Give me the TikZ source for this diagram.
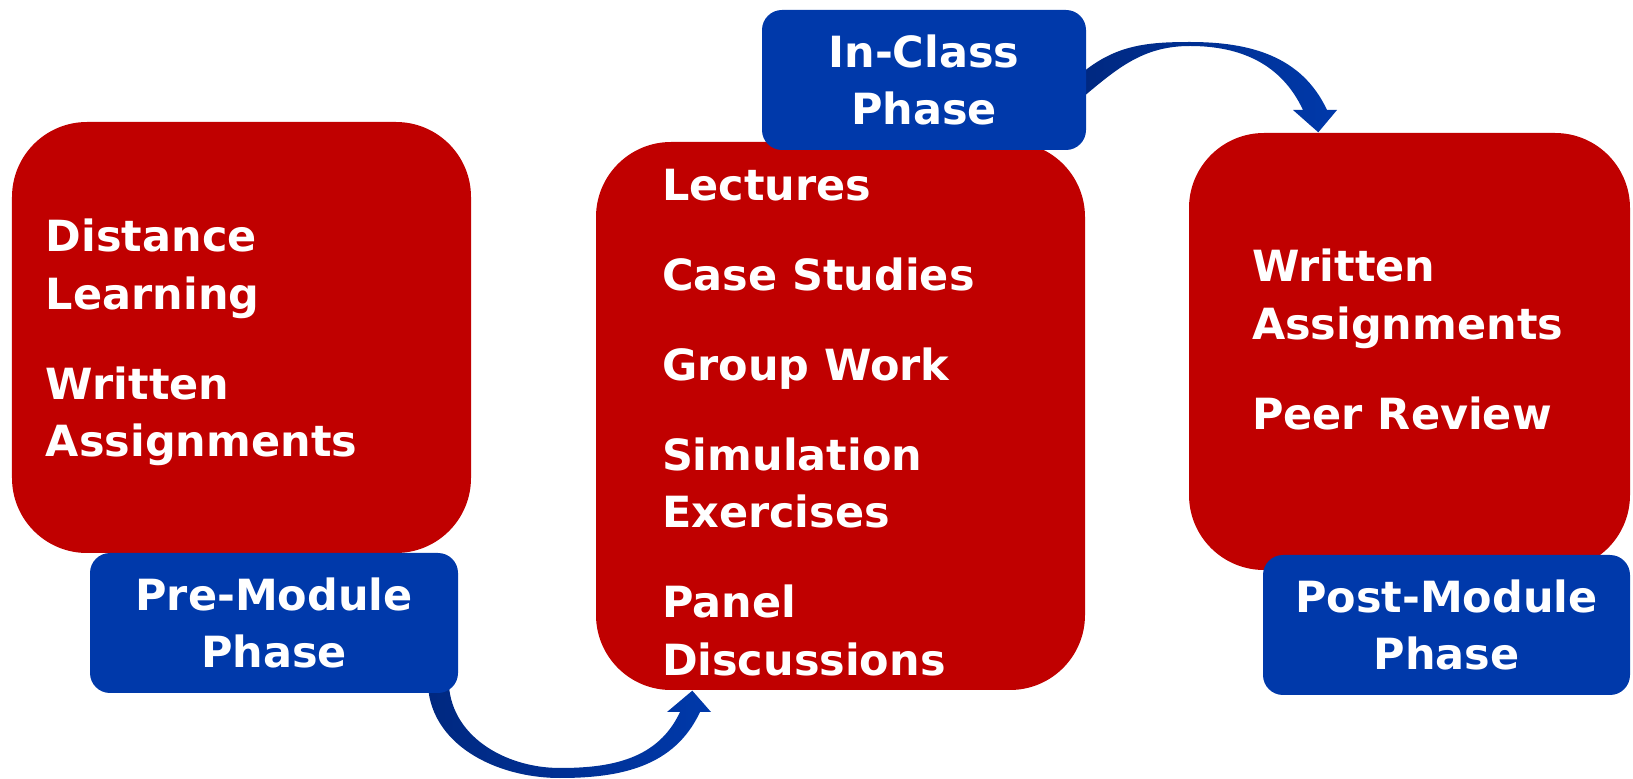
\documentclass[tikz,border=0pt]{standalone}
\usepackage{fontspec}
\setmainfont{DejaVu Sans}
\usetikzlibrary{positioning}

\definecolor{boxred}{RGB}{192,0,0}
\definecolor{phaseblue}{RGB}{0,57,170}
\definecolor{banddark}{RGB}{0,40,128}
\newcommand{\phasefont}{\fontsize{12.23pt}{16.36pt}\selectfont\bfseries}
\newcommand{\pgap}{\\[0.325cm]}

\pgfdeclarelayer{background}
\pgfsetlayers{background,main}

\begin{document}
\begin{tikzpicture}[
  itembox/.style={fill=boxred,rounded corners=0.75cm,inner sep=0pt},
  itemtext/.style={text=white,align=left,inner sep=0pt,font=\phasefont},
  phasebox/.style={fill=phaseblue,rounded corners=0.2cm,inner sep=0pt,
    minimum height=1.4cm,text=white,align=center,font=\phasefont},
  band/.style={left color=banddark,right color=phaseblue}]
\useasboundingbox (0,0) rectangle (16.33,7.79);

% activity boxes
\node[itembox,minimum width=4.59cm,minimum height=4.31cm] (lrn)  at (2.415,4.415) {};
\node[itembox,minimum width=4.89cm,minimum height=5.48cm] (cls)  at (8.405,3.63) {};
\node[itembox,minimum width=4.41cm,minimum height=4.37cm] (post) at (14.095,4.275) {};

\node[itemtext,anchor=north west] (lrnTxt) at ([xshift=0.34cm,yshift=-0.97cm]lrn.north west)
  {Distance\\Learning\pgap Written\\Assignments};
\node[itemtext,anchor=north west] (clsTxt) at ([xshift=0.66cm,yshift=-0.27cm]cls.north west)
  {Lectures\pgap Case Studies\pgap Group Work\pgap Simulation\\Exercises\pgap Panel\\Discussions};
\node[itemtext,anchor=north west] (postTxt) at ([xshift=0.63cm,yshift=-1.16cm]post.north west)
  {Written\\Assignments\pgap Peer Review};

% phase labels
\node[phasebox,minimum width=3.68cm] (prePh)  at (2.74,1.56)  {Pre-Module\\Phase};
\node[phasebox,minimum width=3.24cm] (clsPh)  at (9.24,6.99)  {In-Class\\Phase};
\node[phasebox,minimum width=3.67cm] (postPh) at (14.465,1.54) {Post-Module\\Phase};

% curved arrows
\begin{pgfonlayer}{background}
\path[band] ([xshift=-0.31cm,yshift=0.14cm]prePh.south east)
    to[out=-90,in=180] (5.60,0.01) to[out=0,in=-115] (7.00,0.67)
    -- (7.11,0.67) -- ([xshift=0.97cm]cls.south west) -- (6.67,0.67) -- (6.80,0.67)
    to[out=-115,in=0] (5.60,0.11) to[out=180,in=-90] ([xshift=-0.10cm,yshift=0.14cm]prePh.south east)
    -- cycle;
\path[band] ([xshift=-0.06cm,yshift=0.06cm]clsPh.east)
    to[out=40,in=180] (11.90,7.37) to[out=0,in=115] (13.27,6.69)
    -- (13.37,6.69) -- ([xshift=1.30cm]post.north west) -- (12.93,6.69) -- (13.03,6.69)
    to[out=115,in=0] (11.90,7.33) to[out=180,in=40] ([xshift=-0.06cm,yshift=-0.19cm]clsPh.east)
    -- cycle;
\end{pgfonlayer}
\end{tikzpicture}
\end{document}
